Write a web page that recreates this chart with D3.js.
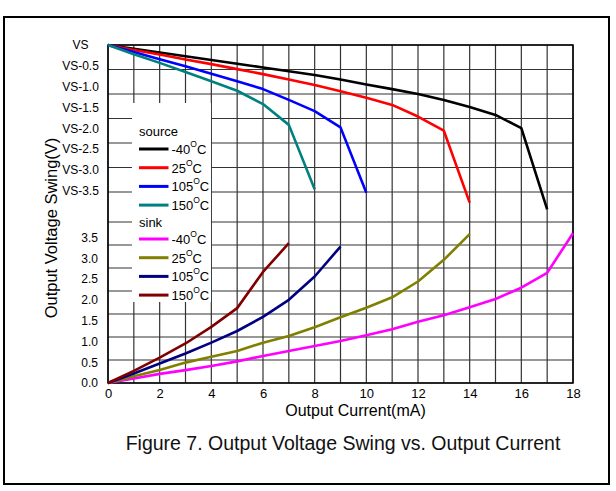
<!DOCTYPE html>
<html>
<head>
<meta charset="utf-8">
<script src="https://cdn.jsdelivr.net/npm/d3@7"></script>
<style>
  html, body { margin: 0; padding: 0; background: #fff; }
  svg { display: block; font-family: Arial, "Liberation Sans", sans-serif; }
</style>
</head>
<body>
<svg id="chart" width="616" height="491"></svg>
<script>
// ---------- DATA ----------
const currentMA = [0,1,2,3,4,5,6,7,8,9,10,11,12,13,14,15,16,17,18];
const xTickValues = [0,2,4,6,8,10,12,14,16,18];
const sourceTickValues = [0,0.5,1.0,1.5,2.0,2.5,3.0,3.5];   // drop below VS (V)
const sinkTickValues = [0,0.5,1.0,1.5,2.0,2.5,3.0,3.5];      // V

// Source: voltage drop below VS (V) at 0,1,2,... mA
const srcM40 = [0,0.09,0.18,0.27,0.36,0.45,0.54,0.63,0.72,0.83,0.95,1.06,1.18,1.32,1.49,1.68,2.00,3.95];
const src25  = [0,0.12,0.23,0.35,0.46,0.58,0.70,0.83,0.96,1.11,1.27,1.44,1.72,2.06,3.79];
const src105 = [0,0.17,0.34,0.51,0.69,0.87,1.06,1.32,1.59,1.98,3.55];
const src150 = [0,0.22,0.43,0.65,0.87,1.10,1.42,1.92,3.47];

// Sink: output voltage (V) at 0,1,2,... mA
const sinkM40 = [0,0.11,0.22,0.31,0.41,0.52,0.65,0.77,0.89,1.01,1.15,1.29,1.47,1.63,1.82,2.02,2.29,2.65,3.60];
const sink25  = [0,0.16,0.31,0.49,0.63,0.77,0.97,1.13,1.34,1.58,1.81,2.06,2.44,2.96,3.58];
const sink105 = [0,0.23,0.47,0.71,0.97,1.25,1.59,2.00,2.56,3.28];
const sink150 = [0,0.29,0.61,0.95,1.35,1.80,2.67,3.36];

const tempLabels = ["-40", "25", "105", "150"];
const sourceColors = ["#000000", "#ff0000", "#0000ff", "#008080"];
const sinkColors = ["#ff00ff", "#808000", "#000080", "#800000"];

// ---------- LAYOUT ----------
const svg = d3.select("#chart");
const L = 108, R = 573, T = 45, B = 383;

const x = d3.scaleLinear().domain([0, 18]).range([L, R]);
const ySource = d3.scaleLinear().domain([0, 3.5]).range([45, 190.6]);
const ySink = d3.scaleLinear().domain([0, 3.5]).range([383, 237.4]);
// the printed grid is not evenly spaced: piecewise scale over the grid line index
const yGrid = d3.scaleLinear().domain([0, 6, 7, 14]).range([45, 192, 222, 383]);

// outer frame
svg.append("rect").attr("x", 4).attr("y", 17).attr("width", 605).attr("height", 467)
  .attr("fill", "none").attr("stroke", "#000").attr("stroke-width", 2);

// grid
const grid = svg.append("g");
grid.selectAll("line.v").data(currentMA).join("line")
  .attr("x1", d => x(d)).attr("x2", d => x(d)).attr("y1", T).attr("y2", B)
  .attr("stroke", "#333").attr("stroke-width", 1.2);
grid.selectAll("line.h").data(d3.range(15)).join("line")
  .attr("x1", L).attr("x2", R).attr("y1", d => yGrid(d)).attr("y2", d => yGrid(d))
  .attr("stroke", "#333").attr("stroke-width", 1.2);
svg.append("rect").attr("x", L).attr("y", T).attr("width", R - L).attr("height", B - T)
  .attr("fill", "none").attr("stroke", "#000").attr("stroke-width", 1.5);

// axes
const xAxis = svg.append("g").attr("transform", `translate(0,${B})`)
  .call(d3.axisBottom(x).tickValues(xTickValues).tickSize(0).tickPadding(6).tickFormat(d3.format("d")));
xAxis.select(".domain").remove();
xAxis.selectAll("text").attr("font-size", 13).attr("fill", "#000").attr("font-family", "Arial, 'Liberation Sans', sans-serif");

const srcAxis = svg.append("g").attr("transform", `translate(${L},0)`)
  .call(d3.axisLeft(ySource).tickValues(sourceTickValues).tickSize(0)
    .tickFormat(d => d === 0 ? "VS" : "VS-" + d.toFixed(1)));
srcAxis.select(".domain").remove();
srcAxis.selectAll("text").attr("x", 80.5 - L).attr("text-anchor", "middle")
  .attr("font-size", 12).attr("fill", "#000").attr("font-family", "Arial, 'Liberation Sans', sans-serif");

const sinkAxis = svg.append("g").attr("transform", `translate(${L},0)`)
  .call(d3.axisLeft(ySink).tickValues(sinkTickValues).tickSize(0).tickPadding(10)
    .tickFormat(d3.format(".1f")));
sinkAxis.select(".domain").remove();
sinkAxis.selectAll("text").attr("font-size", 12).attr("fill", "#000").attr("font-family", "Arial, 'Liberation Sans', sans-serif");

// legend box
svg.append("rect").attr("x", 132).attr("y", 103).attr("width", 79).attr("height", 199).attr("fill", "#fff");

// curves
const lineSrc = d3.line().x((d, i) => x(currentMA[i])).y(d => ySource(d));
const lineSink = d3.line().x((d, i) => x(currentMA[i])).y(d => ySink(d));
const sourceSeries = [srcM40, src25, src105, src150];
const sinkSeries = [sinkM40, sink25, sink105, sink150];

svg.append("g").selectAll("path").data(sinkSeries).join("path")
  .attr("d", lineSink).attr("fill", "none").attr("stroke", (d, i) => sinkColors[i])
  .attr("stroke-width", 2.6).attr("stroke-linejoin", "round");
svg.append("g").selectAll("path").data(sourceSeries).join("path")
  .attr("d", lineSrc).attr("fill", "none").attr("stroke", (d, i) => sourceColors[i])
  .attr("stroke-width", 2.6).attr("stroke-linejoin", "round");

// legend
const lg = svg.append("g").attr("font-size", 13).attr("fill", "#000");
lg.append("text").attr("x", 139).attr("y", 136).text("source");
lg.append("text").attr("x", 139).attr("y", 226.5).text("sink");
function legendItem(yc, color, label) {
  lg.append("line").attr("x1", 139).attr("x2", 168.5).attr("y1", yc).attr("y2", yc)
    .attr("stroke", color).attr("stroke-width", 3);
  const t = lg.append("text").attr("x", 171.5).attr("y", yc + 5);
  t.append("tspan").text(label);
  t.append("tspan").attr("font-size", 8.5).attr("dy", -7).text("O");
  t.append("tspan").attr("dy", 7).text("C");
}
tempLabels.forEach((lab, i) => legendItem(149 + i * 18.7, sourceColors[i], lab));
tempLabels.forEach((lab, i) => legendItem(239 + i * 18.7, sinkColors[i], lab));

// titles
svg.append("text").attr("x", 355.5).attr("y", 416).attr("text-anchor", "middle")
  .attr("font-size", 16).text("Output Current(mA)");
svg.append("text").attr("transform", "translate(56.5,228) rotate(-90)").attr("text-anchor", "middle")
  .attr("font-size", 16.5).text("Output Voltage Swing(V)");
svg.append("text").attr("x", 343).attr("y", 450).attr("text-anchor", "middle")
  .attr("font-size", 19.5).attr("fill", "#111").text("Figure 7. Output Voltage Swing vs. Output Current");
</script>
</body>
</html>
